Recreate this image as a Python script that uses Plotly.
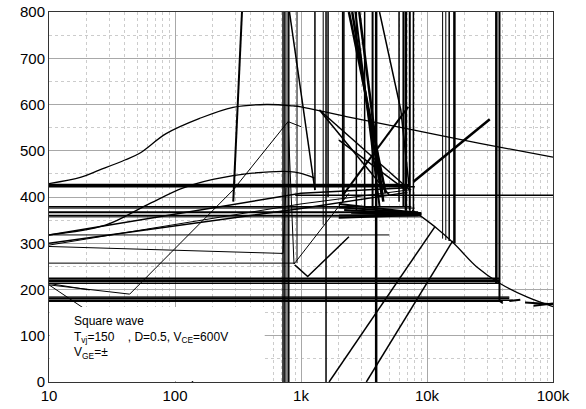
import plotly.graph_objects as go

# ---------------- data ----------------
# smooth curves
curve_a_x = [10, 18, 25, 40, 52, 85, 157, 289, 531, 865, 1000, 2290, 7740, 26200, 100000]
curve_a_y = [429, 443, 458, 480, 494, 537, 570, 594, 600, 597, 595, 574, 545, 516, 486]
curve_b_x = [10, 28, 60, 115, 200, 392, 812, 1000, 1283]
curve_b_y = [318, 339, 383, 419, 438, 451, 455, 451, 441]
curve_c_x = [7600, 9100, 12000, 16300, 25000, 38000, 62000, 100000]
curve_c_y = [372, 357, 332, 300, 248, 213, 184, 163]

# horizontal runs
horiz_y  = [426, 422, 404, 379, 376, 367, 360, 357, 318, 257, 224, 220, 217, 213, 184, 181, 177, 174]
horiz_x0 = [10, 10, 900, 10, 10, 10, 10, 10, 10, 10, 10, 10, 10, 10, 10, 10, 10, 10]
horiz_x1 = [7300, 8000, 100000, 7500, 8000, 8500, 8500, 9000, 5000, 900,
            38000, 38000, 38000, 38000, 45000, 45000, 48000, 40000]

# vertical runs
vert_x   = [720, 745, 775, 800, 930, 1290, 1500, 1580, 1640, 2150, 2200, 2750, 3200, 3700,
            3950, 6000, 6500, 6800, 7300, 7800, 13300, 14100, 15000, 16500, 35500, 37600]
vert_y0  = [0, 0, 0, 0, 257, 415, 340, 0, 400, 390, 395, 370, 370, 380,
            0, 390, 380, 370, 370, 370, 310, 307, 305, 300, 214, 175]
vert_y1  = [800] * 26

# sloped polylines (each list of x with matching list of y)
path_x = [
    [10, 1000, 7000], [10, 1000, 7000], [10, 1000, 7500], [10, 720, 760],
    [10, 43.7, 289, 790, 880, 2400], [10, 140], [10, 21], [290, 340], [810, 1290],
    [2400, 4700], [2550, 4400], [2700, 4200], [2900, 4500], [4200, 6200, 7300],
    [2150, 7100], [1400, 7300], [1400, 5000], [7800, 31500], [1670, 11500],
    [3300, 16000], [890, 920, 1130, 2400], [2000, 6800],
    [2000, 9000], [2000, 9000], [2200, 9000], [2500, 9000], [2000, 9000], [2000, 9000],
    [37600, 40000], [45000, 55000], [60000, 100000], [70000, 100000], [1000, 790],
]
path_y = [
    [318, 408, 420], [300, 375, 410], [296, 385, 416], [293, 278, 420],
    [210, 190, 415, 563, 255, 408], [210, 0], [213, 199], [390, 800], [800, 415],
    [800, 408], [800, 400], [800, 380], [800, 390], [800, 588, 410],
    [404, 595], [588, 415], [588, 405], [433, 568], [0, 335],
    [0, 305], [253, 250, 228, 314], [523, 415],
    [385, 365], [378, 365], [372, 363], [366, 362], [360, 362], [355, 361],
    [175, 170], [175, 178], [172, 168], [165, 170], [552, 563],
]

y_ticks = [0, 100, 200, 300, 400, 500, 600, 700, 800]
x_ticks = [10, 100, 1000, 10000, 100000]
x_tick_text = ["10", "100", "1k", "10k", "100k"]

# ---------------- styles ----------------
horiz_w = [2.5, 1.5, 1.5, 1.5, 1, 2, 1.5, 1, 1, 1, 2, 1.5, 1.5, 1, 1, 2, 1.5, 1]
vert_w = [1.5, 1.5, 1, 1.5, 1, 1.5, 1, 1.5, 1.5, 2, 1, 1.5, 1.5, 2,
          2.5, 1.5, 2, 2.5, 2, 1.5, 1, 1, 1.5, 2.5, 2.5, 2]
path_w = [1.5, 1.5, 1, 1, 1, 1, 1, 2, 1.5, 2.5, 2.5, 2, 2.5, 1.5, 2, 1.5, 1.5, 2.5,
          1.5, 1.5, 1.5, 1.5, 2, 2, 2, 2, 2, 2, 1.5, 2, 2, 2, 1]

groups = {}
def add(xs, ys, w):
    g = groups.setdefault(w, ([], []))
    g[0].extend(list(xs) + [None])
    g[1].extend(list(ys) + [None])

for y, a, b, w in zip(horiz_y, horiz_x0, horiz_x1, horiz_w):
    add([a, b], [y, y], w)
for x, a, b, w in zip(vert_x, vert_y0, vert_y1, vert_w):
    add([x, x], [a, b], w)
for xs, ys, w in zip(path_x, path_y, path_w):
    add(xs, ys, w)

fig = go.Figure()
for w, (xs, ys) in groups.items():
    fig.add_trace(go.Scatter(x=xs, y=ys, mode="lines", line=dict(color="black", width=w),
                             hoverinfo="skip", showlegend=False, connectgaps=False))
for cx, cy in [(curve_a_x, curve_a_y), (curve_b_x, curve_b_y), (curve_c_x, curve_c_y)]:
    fig.add_trace(go.Scatter(x=cx, y=cy, mode="lines",
                             line=dict(color="black", width=1.3, shape="spline", smoothing=1.0),
                             hoverinfo="skip", showlegend=False))

minor_x = [m * 10 ** d for d in range(1, 5) for m in range(2, 10)]

fig.update_xaxes(type="log", range=[1, 5], tickvals=x_ticks, ticktext=x_tick_text,
                 automargin=False,
                 showgrid=True, gridcolor="#a8a8a8", gridwidth=1,
                 minor=dict(tickvals=minor_x, showgrid=True, gridcolor="#cccccc",
                            griddash="dot", gridwidth=1, ticks=""),
                 showline=True, linecolor="#333333", linewidth=1, mirror=True,
                 ticks="", zeroline=False, tickfont=dict(size=15, color="black"))
fig.update_yaxes(range=[0, 800], tickvals=y_ticks, automargin=False,
                 showgrid=True, gridcolor="#a8a8a8", gridwidth=1,
                 minor=dict(dtick=50, showgrid=True, gridcolor="#cccccc",
                            griddash="dot", gridwidth=1, ticks=""),
                 showline=True, linecolor="#333333", linewidth=1, mirror=True,
                 ticks="", zeroline=False, tickfont=dict(size=15, color="black"))

fig.add_shape(type="rect", xref="x domain", yref="y domain", x0=0.002, x1=0.428,
              y0=0.003, y1=0.203, fillcolor="white", line=dict(width=0), layer="above")
fig.add_annotation(xref="x domain", yref="y domain", x=0.045, y=0.19,
                   xanchor="left", yanchor="top", align="left", showarrow=False,
                   text="Square wave<br>T<sub>vj</sub>=150    , D=0.5, V<sub>CE</sub>=600V<br>V<sub>GE</sub>=\u00b1",
                   font=dict(size=12, color="black", family="Liberation Sans, Arial, sans-serif"))

fig.update_layout(width=586, height=409, margin=dict(l=49, r=33, t=12, b=27),
                  plot_bgcolor="white", paper_bgcolor="white",
                  font=dict(family="Liberation Sans, Arial, sans-serif", color="black"))

fig.write_html("out.html", config={"displayModeBar": False},
               post_script="document.body.style.margin='0';document.body.style.overflow='hidden';")
